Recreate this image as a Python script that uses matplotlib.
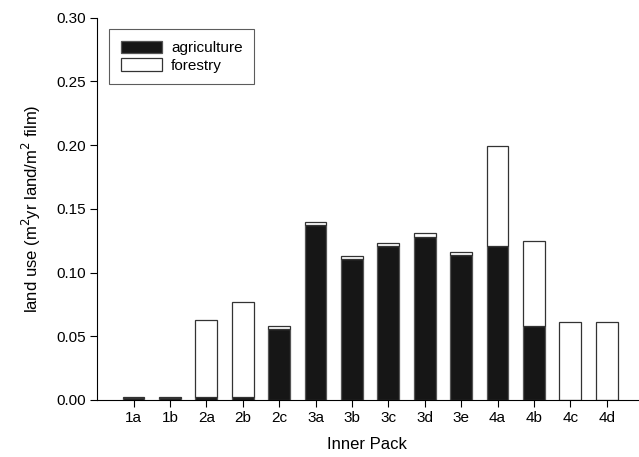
import numpy as np
import matplotlib.pyplot as plt

plt.rcParams['font.family'] = ['Liberation Sans', 'DejaVu Sans']

categories = ['1a', '1b', '2a', '2b', '2c', '3a', '3b', '3c', '3d', '3e', '4a', '4b', '4c', '4d']
agriculture = [0.0015, 0.0015, 0.002, 0.002, 0.056, 0.137, 0.111, 0.121, 0.128, 0.114, 0.121, 0.058, 0.0, 0.0]
forestry = [0.0005, 0.0005, 0.061, 0.075, 0.002, 0.003, 0.002, 0.002, 0.003, 0.002, 0.078, 0.067, 0.061, 0.061]

fig = plt.figure(figsize=(6.39, 4.57), dpi=100)
ax = fig.add_axes([0.152, 0.125, 0.846, 0.836])

x = np.arange(1, len(categories) + 1)
w = 0.6
ax.bar(x, agriculture, w, color='#161616', edgecolor='#555555', linewidth=0.9, label='agriculture')
ax.bar(x, forestry, w, bottom=agriculture, color='white', edgecolor='#333333', linewidth=0.9, label='forestry')

ax.set_xlim(0, 14.85)
ax.set_ylim(0, 0.30)
ax.set_xticks(x)
ax.set_xticklabels(categories)
ax.set_yticks(np.arange(0, 0.31, 0.05))
ax.set_yticklabels([f'{v:.2f}' for v in np.arange(0, 0.31, 0.05)])
ax.tick_params(direction='out', length=5, width=0.8, labelsize=11, colors='black', pad=3)
for s in ['top', 'right']:
    ax.spines[s].set_visible(False)
for s in ['left', 'bottom']:
    ax.spines[s].set_linewidth(0.8)

ax.set_xlabel('Inner Pack', fontsize=12, labelpad=9)
ax.set_ylabel('land use (m$^2$yr land/m$^2$ film)', fontsize=12, labelpad=10)

leg = ax.legend(loc='upper left', bbox_to_anchor=(0.008, 0.99), fancybox=False, edgecolor='#333333',
                fontsize=11, handlelength=2.7, handleheight=0.9, handletextpad=0.6,
                borderpad=0.75, labelspacing=0.2)
leg.get_frame().set_linewidth(0.8)

fig.savefig('out.png', dpi=100)
